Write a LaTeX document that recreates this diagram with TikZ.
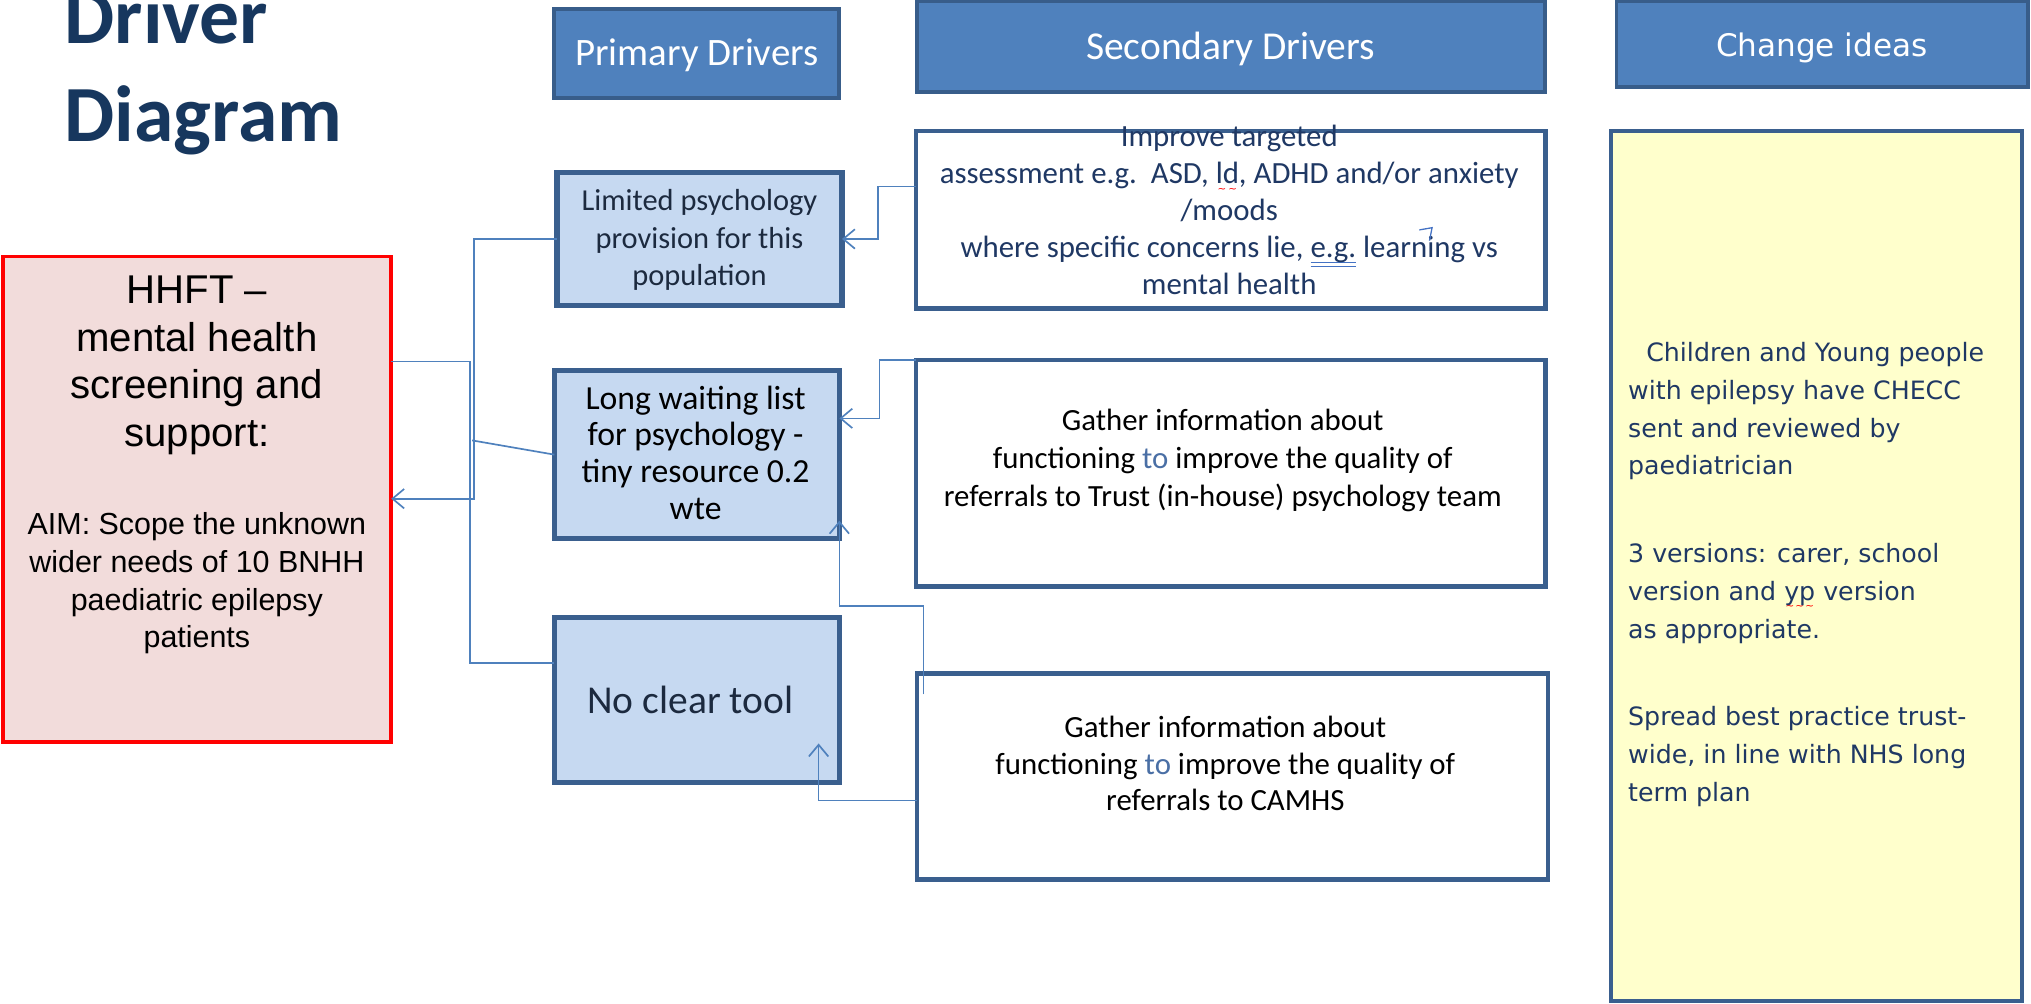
\documentclass[tikz,border=0pt]{standalone}
\usepackage{fontspec}
\setmainfont{Carlito}
\newfontfamily\arialf{Liberation Sans}
\newfontfamily\verdf{DejaVu Sans}
\usetikzlibrary{arrows.meta}
\definecolor{hdrfill}{HTML}{4F81BD}
\definecolor{hdrline}{HTML}{385D8A}
\definecolor{primfill}{HTML}{C6D9F1}
\definecolor{boxline}{HTML}{3A5F8E}
\definecolor{goalfill}{HTML}{F2DCDB}
\definecolor{ideafill}{HTML}{FFFFCC}
\definecolor{titlec}{HTML}{17375E}
\definecolor{navytxt}{HTML}{1F3864}
\definecolor{primtxt}{HTML}{1C2A3F}
\definecolor{connc}{HTML}{4F81BD}
\definecolor{toblue}{HTML}{4A6FA5}
\definecolor{ulblue}{HTML}{4472C4}
\newcommand\wavy[1]{\setbox0=\hbox{#1}\rlap{\color{red}\lower7pt\hbox to \wd0{\xleaders\hbox{\verdf\fontsize{8}{8}\selectfont ∼}\hfil}}\box0\relax}
\newcommand\dblu[1]{\setbox0=\hbox{#1}\rlap{\color{ulblue}\rule[-4.2pt]{\wd0}{1.1pt}}\rlap{\color{ulblue}\rule[-7.4pt]{\wd0}{1.1pt}}\box0\relax}
\tikzset{
  boxbase/.style={inner sep=0pt, outer sep=0pt},
  hdr/.style={boxbase, draw=hdrline, fill=hdrfill, line width=3pt},
  prim/.style={boxbase, draw=boxline, fill=primfill, line width=4pt},
  sec/.style={boxbase, draw=boxline, fill=white, line width=3.5pt},
  goalbox/.style={boxbase, draw=red, fill=goalfill, line width=3pt},
  idea/.style={boxbase, draw=boxline, fill=ideafill, line width=3pt},
  txt/.style={inner sep=0pt, outer sep=0pt, anchor=base},
  conn/.style={draw=connc, line width=1.3pt},
  arr/.style={-{Straight Barb[length=9pt,width=15pt]}}
}
\begin{document}
\begin{tikzpicture}[x=1pt,y=-1pt]
\useasboundingbox (0,0) rectangle (1568,775);
% boxes
\node[hdr, minimum width=220pt, minimum height=69pt] (hdrP) at (538,41.5) {};
\node[hdr, minimum width=485pt, minimum height=70pt] (hdrS) at (950.5,36) {};
\node[hdr, minimum width=318pt, minimum height=66pt] (hdrC) at (1407,34) {};
\node[goalbox, minimum width=300pt, minimum height=375pt] (goal) at (152,385.5) {};
\node[prim, minimum width=220pt, minimum height=103pt] (prim1) at (540,184.5) {};
\node[prim, minimum width=220pt, minimum height=130pt] (prim2) at (538,351) {};
\node[prim, minimum width=220pt, minimum height=127pt] (prim3) at (538,540.5) {};
\node[sec, minimum width=486pt, minimum height=137pt] (sec1) at (950,169.5) {};
\node[sec, minimum width=486pt, minimum height=175pt] (sec2) at (950,365.5) {};
\node[sec, minimum width=487pt, minimum height=159pt] (sec3) at (951.5,599.5) {};
\node[idea, minimum width=317pt, minimum height=672pt] (ideas) at (1402.5,437) {};
% title
\node[txt, anchor=base west, text=titlec, font={\bfseries\fontsize{61.5}{76}\selectfont}] (title) at (50,33.5) {\parbox[t]{400pt}{\raggedright Driver\\Diagram}};
% header texts
\node[txt, text=white, font={\fontsize{30}{36}\selectfont}] (hdrPt) at (538,50.2) {Primary Drivers};
\node[txt, text=white, font={\fontsize{30.5}{36}\selectfont}] (hdrSt) at (950,46.3) {Secondary Drivers};
\node[txt, text=white, font={\verdf\fontsize{24}{27}\selectfont}] (hdrCt) at (1406.5,43.5) {Change ideas};
% goal texts
\node[txt, text=black, font={\arialf\fontsize{31}{37}\selectfont}] (goalt1) at (152,234) {\parbox[t]{290pt}{\centering HHFT –\\mental health\\screening and\\support:}};
\node[txt, text=black, font={\arialf\fontsize{23.5}{29}\selectfont}] (goalt2) at (152,413) {\parbox[t]{290pt}{\centering AIM: Scope the unknown\\wider needs of 10 BNHH\\paediatric epilepsy\\patients}};
% primary driver texts
\node[txt, text=primtxt, font={\fontsize{23.5}{29}\selectfont}] (prim1t) at (540,162.5) {\parbox[t]{215pt}{\centering Limited psychology\\provision for this\\population}};
\node[txt, text=black, font={\fontsize{26}{28.3}\selectfont}] (prim2t) at (537,315.8) {\parbox[t]{215pt}{\centering Long waiting list\\for psychology -\\tiny resource 0.2\\wte}};
\node[txt, text=primtxt, font={\fontsize{30.5}{36}\selectfont}] (prim3t) at (533,551) {No clear tool};
% secondary driver texts
\node[txt, text=navytxt, font={\fontsize{23.8}{28.6}\selectfont}] (sec1t) at (949,113) {\parbox[t]{480pt}{\centering Improve targeted\\assessment e.g.\ \ ASD, \wavy{ld}, ADHD and/or anxiety\\/moods\\where specific concerns lie, \dblu{e.g.} learning vs\\mental health}};
\node[txt, text=black, font={\fontsize{23.8}{29.5}\selectfont}] (sec2t) at (944,332) {\parbox[t]{480pt}{\centering Gather information about\\functioning \textcolor{toblue}{to} improve the quality of\\referrals to Trust (in-house) psychology team}};
\node[txt, text=black, font={\fontsize{23.8}{28.4}\selectfont}] (sec3t) at (946,569.3) {\parbox[t]{480pt}{\centering Gather information about\\functioning \textcolor{toblue}{to} improve the quality of\\referrals to CAMHS}};
% change ideas text
\node[txt, anchor=base west, text=navytxt, font={\verdf\fontsize{19.5}{29.2}\selectfont}] (ideat) at (1257,279) {\parbox[t]{300pt}{\raggedright\hspace*{14pt}Children and Young people\\with epilepsy have CHECC\\sent and reviewed by\\paediatrician\\[38.5pt]3 versions: carer, school\\version and \wavy{yp} version\\as appropriate.\\[38.5pt]Spread best practice trust-\\wide, in line with NHS long\\term plan}};
% stray pen mark
\draw[draw=ulblue, line width=1pt] (1095.8,177.5) -- (1105.6,175.8) -- (1103.6,185.8);
% connectors
\coordinate (j1) at (366,385);
\coordinate (j2) at (363,279);
\coordinate (j3) at (363,512);
\coordinate (j4) at (364.5,340);
\coordinate (k1) at (678,144);
\coordinate (k2) at (679,278);
\coordinate (k3) at (679,323);
\coordinate (k4) at (713,536);
\coordinate (k5) at (713,468);
\coordinate (k6) at (648,402);
\coordinate (k7) at (632,618);
\coordinate (k8) at (632,574);
\draw[conn, arr] (prim1.west) -| (j1) -- (goal.east |- j1);
\draw[conn] (goal.east |- j2) -- (j2) -- (j3) -- (prim3.west |- j3);
\draw[conn] (j4) -- (prim2.west);
\draw[conn, arr] (sec1.west |- k1) -- (k1) |- (prim1.east);
\draw[conn, arr] (sec2.north west) -- (k2) -- (k3) -- (prim2.east |- k3);
\draw[conn, arr] (k4) -- (k5) -| (k6);
\draw[conn, arr] (sec3.west |- k7) -- (k7) -- (k8);
\end{tikzpicture}
\end{document}
